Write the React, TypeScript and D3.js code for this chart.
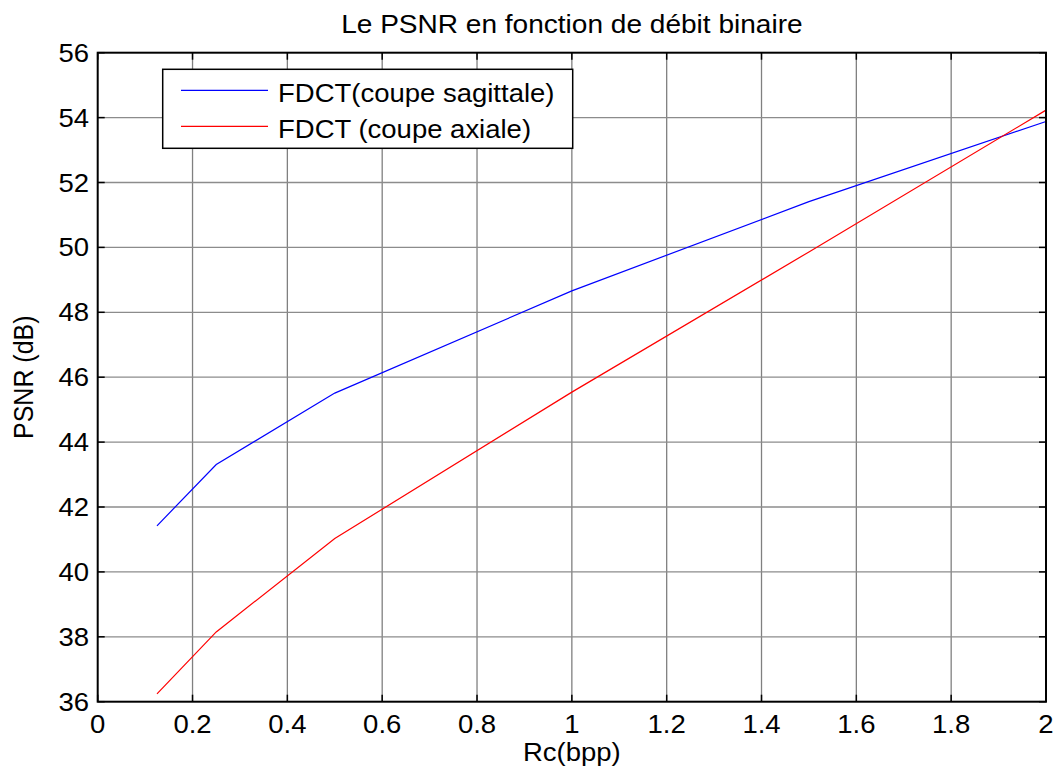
import React from "react";
import * as d3 from "d3";

const rates = [0.125, 0.25, 0.5, 1, 1.5, 2];
const sagittale = [41.42, 43.31, 45.51, 48.66, 51.41, 53.88];
const axiale = [36.24, 38.15, 41.03, 45.54, 49.86, 54.23];
const xTicks = [0, 0.2, 0.4, 0.6, 0.8, 1, 1.2, 1.4, 1.6, 1.8, 2];
const yTicks = [36, 38, 40, 42, 44, 46, 48, 50, 52, 54, 56];
const seriesNames = ["FDCT(coupe sagittale)", "FDCT (coupe axiale)"];
const seriesColors = ["#0000ff", "#ff0000"];
const titleText = "Le PSNR en fonction de débit binaire";
const xLabel = "Rc(bpp)";
const yLabel = "PSNR (dB)";

const W = 1054;
const H = 769;
const L = 97.7, R = 1046, T = 52.7, B = 701.7;
const SX = 1.1;
const FONT = "'Liberation Sans', Arial, sans-serif";

export default function App() {
  const x = d3.scaleLinear().domain([0, 2]).range([L, R]);
  const y = d3.scaleLinear().domain([36, 56]).range([B, T]);
  const line = d3
    .line<number>()
    .x((_, i) => x(rates[i]))
    .y((d) => y(d));
  const series = [sagittale, axiale];
  const tickLen = 7;

  return (
    <svg
      width={W}
      height={H}
      style={{ position: "absolute", left: 0, top: 0, background: "#fff" }}
      fontFamily={FONT}
    >
      <rect x={0} y={0} width={W} height={H} fill="#fff" />
      {/* grid */}
      {xTicks.slice(1, -1).map((t) => (
        <line key={"gx" + t} x1={x(t)} x2={x(t)} y1={T} y2={B} stroke="#808080" strokeWidth={1.3} />
      ))}
      {yTicks.slice(1, -1).map((t) => (
        <line key={"gy" + t} x1={L} x2={R} y1={y(t)} y2={y(t)} stroke="#8c8c8c" strokeWidth={1.3} />
      ))}
      {/* ticks */}
      {xTicks.map((t) => (
        <g key={"tx" + t}>
          <line x1={x(t)} x2={x(t)} y1={B} y2={B - tickLen} stroke="#000" strokeWidth={1.5} />
          <line x1={x(t)} x2={x(t)} y1={T} y2={T + tickLen} stroke="#000" strokeWidth={1.5} />
        </g>
      ))}
      {yTicks.map((t) => (
        <g key={"ty" + t}>
          <line x1={L} x2={L + tickLen} y1={y(t)} y2={y(t)} stroke="#000" strokeWidth={1.5} />
          <line x1={R} x2={R - tickLen} y1={y(t)} y2={y(t)} stroke="#000" strokeWidth={1.5} />
        </g>
      ))}
      {/* data */}
      {series.map((s, i) => (
        <path key={"s" + i} d={line(s) || ""} fill="none" stroke={seriesColors[i]} strokeWidth={1.2} />
      ))}
      {/* axes box */}
      <rect x={L} y={T} width={R - L} height={B - T} fill="none" stroke="#000" strokeWidth={2} />
      {/* tick labels */}
      {xTicks.map((t) => (
        <text
          key={"lx" + t}
          transform={`translate(${x(t)},733) scale(${SX},1)`}
          textAnchor="middle"
          fontSize={25}
          fill="#000"
        >
          {String(t)}
        </text>
      ))}
      {yTicks.map((t) => (
        <text
          key={"ly" + t}
          transform={`translate(89,${y(t) + 9}) scale(${SX},1)`}
          textAnchor="end"
          fontSize={25}
          fill="#000"
        >
          {String(t)}
        </text>
      ))}
      {/* labels */}
      <text transform={`translate(${(L + R) / 2},33) scale(${SX},1)`} textAnchor="middle" fontSize={25.5} fill="#000">
        {titleText}
      </text>
      <text transform={`translate(${(L + R) / 2},761) scale(${SX},1)`} textAnchor="middle" fontSize={25} fill="#000">
        {xLabel}
      </text>
      <text
        transform={`translate(33,${(T + B) / 2}) scale(${SX},1) rotate(-90)`}
        textAnchor="middle"
        fontSize={25}
        fill="#000"
      >
        {yLabel}
      </text>
      {/* legend */}
      <rect x={162.7} y={69.3} width={410} height={79} fill="#fff" stroke="#000" strokeWidth={1.5} />
      {seriesNames.map((n, i) => {
        const ly = 90.3 + i * 36;
        return (
          <g key={"lg" + i}>
            <line x1={181} x2={268} y1={ly} y2={ly} stroke={seriesColors[i]} strokeWidth={1.2} />
            <text transform={`translate(278,${ly + 11.5}) scale(${SX},1)`} fontSize={25} fill="#000">
              {n}
            </text>
          </g>
        );
      })}
    </svg>
  );
}
